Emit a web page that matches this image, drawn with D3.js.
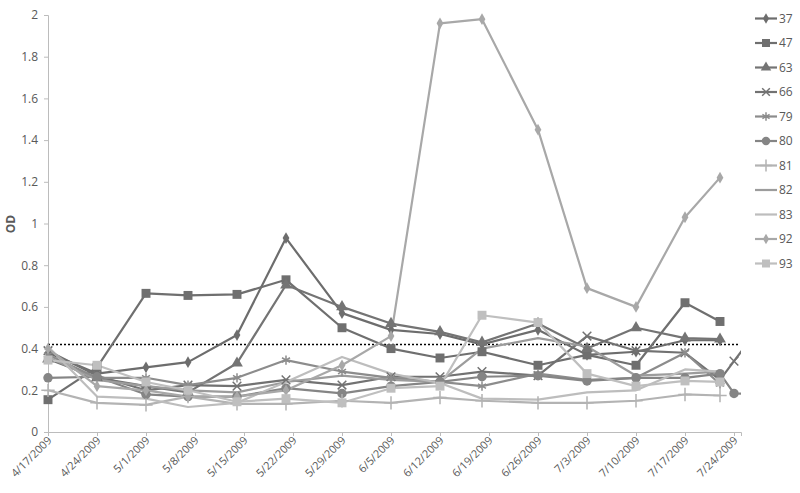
<!DOCTYPE html>
<html>
<head>
<meta charset="utf-8">
<script src="https://cdn.jsdelivr.net/npm/d3@7"></script>
<style>
  body { margin: 0; background: #fff; }
  text { font-family: "Open Sans", "Noto Sans", sans-serif; fill: #595959; }
</style>
</head>
<body>
<script>
const width = 800, height = 493;
const parseDate = d3.timeParse("%m/%d/%Y");

// sample dates (shared by every series)
const dates = ["4/17/2009","4/24/2009","5/1/2009","5/7/2009","5/14/2009","5/21/2009","5/29/2009",
  "6/5/2009","6/12/2009","6/18/2009","6/26/2009","7/3/2009","7/10/2009","7/17/2009","7/22/2009",
  "7/24/2009","7/31/2009"];
const tickDates = ["4/17/2009","4/24/2009","5/1/2009","5/8/2009","5/15/2009","5/22/2009","5/29/2009",
  "6/5/2009","6/12/2009","6/19/2009","6/26/2009","7/3/2009","7/10/2009","7/17/2009","7/24/2009"];
const yTicks = [0, 0.2, 0.4, 0.6, 0.8, 1, 1.2, 1.4, 1.6, 1.8, 2];
const cutoff = 0.42;

const names = ["37","47","63","66","79","80","81","82","83","92","93"];
const s37 = [0.38,0.28,0.31,0.335,0.465,0.93,0.57,0.49,0.47,0.42,0.49,0.37,0.385,0.44,0.44,null,null];
const s47 = [0.155,0.31,0.665,0.655,0.66,0.73,0.50,0.40,0.355,0.385,0.32,0.37,0.32,0.62,0.53,null,null];
const s63 = [0.35,0.26,0.22,0.19,0.33,0.705,0.60,0.52,0.48,0.43,0.52,0.40,0.50,0.45,0.445,null,null];
const s66 = [0.39,0.27,0.20,0.225,0.22,0.25,0.225,0.265,0.265,0.29,0.27,0.46,0.39,0.38,0.25,0.34,0.65];
const s79 = [0.37,0.26,0.26,0.225,0.26,0.345,0.29,0.26,0.24,0.22,0.28,0.25,0.26,0.38,0.23,null,null];
const s80 = [0.26,0.265,0.18,0.17,0.17,0.21,0.185,0.22,0.24,0.265,0.27,0.245,0.26,0.26,0.28,0.185,0.18];
const s81 = [0.20,0.14,0.13,0.17,0.135,0.135,0.15,0.14,0.165,0.15,0.14,0.14,0.15,0.18,0.175,null,null];
const s82 = [0.36,0.25,0.22,0.20,0.19,0.24,0.27,0.25,0.24,0.40,0.45,0.41,0.27,0.28,0.29,null,null];
const s83 = [0.41,0.17,0.16,0.12,0.14,0.24,0.36,0.28,0.235,0.16,0.155,0.19,0.20,0.30,0.29,null,null];
const s92 = [0.40,0.22,0.20,0.17,0.17,0.20,0.32,0.46,1.96,1.98,1.45,0.69,0.60,1.03,1.22,null,null];
const s93 = [0.345,0.32,0.24,0.20,0.145,0.16,0.14,0.21,0.22,0.56,0.525,0.28,0.22,0.245,0.24,null,null];
const values = [s37,s47,s63,s66,s79,s80,s81,s82,s83,s92,s93];

const colors = ["#6d6d6d","#6f6f6f","#747474","#727272","#8c8c8c","#858585","#b3b3b3","#9c9c9c","#bdbdbd","#a8a8a8","#bfbfbf"];
const shapes = [d3.symbolDiamond, d3.symbolSquare, d3.symbolTriangle, d3.symbolX, d3.symbolAsterisk,
  d3.symbolCircle, d3.symbolPlus, null, null, d3.symbolDiamond, d3.symbolSquare];
const sizes = [40, 80, 60, 50, 60, 70, 60, 0, 0, 40, 80];
const strokeShape = [false,false,false,true,true,false,true,false,false,false,false];

const x = d3.scaleTime()
  .domain([parseDate("4/17/2009"), parseDate("7/25/2009")])
  .range([48, 741]);
const y = d3.scaleLinear().domain([0, 2]).range([432, 15]);

const svg = d3.select("body").append("svg")
  .attr("width", width).attr("height", height);

svg.append("defs").append("clipPath").attr("id", "plot")
  .append("rect").attr("x", 40).attr("y", 0).attr("width", 701).attr("height", 440);

// y axis
const yAxis = svg.append("g")
  .attr("transform", "translate(48,0)")
  .call(d3.axisLeft(y).tickValues(yTicks).tickSize(4).tickPadding(6).tickFormat(d3.format("")));
yAxis.select(".domain").attr("stroke", "#bcbcbc");
yAxis.selectAll(".tick line").attr("stroke", "#bcbcbc");
yAxis.selectAll("text").attr("font-size", 12).attr("fill", "#595959")
  .style("font-family", "'Open Sans', sans-serif");

svg.append("text")
  .attr("transform", "translate(15,224) rotate(-90)")
  .attr("text-anchor", "middle")
  .attr("font-size", 12).attr("font-weight", "bold")
  .text("OD");

// x axis
const xAxis = svg.append("g")
  .attr("transform", "translate(0,432)")
  .call(d3.axisBottom(x).tickValues(tickDates.map(parseDate)).tickSize(4)
    .tickFormat(d3.timeFormat("%-m/%-d/%Y")));
xAxis.select(".domain").attr("stroke", "#bcbcbc");
xAxis.selectAll(".tick line").attr("stroke", "#bcbcbc");
xAxis.selectAll("text")
  .attr("font-size", 11).attr("fill", "#595959")
  .style("font-family", "'Open Sans', sans-serif")
  .attr("text-anchor", "end")
  .attr("dy", null).attr("y", 0)
  .attr("transform", "translate(4,9) rotate(-45)");

// cutoff line
svg.append("line")
  .attr("x1", x.range()[0]).attr("x2", 740)
  .attr("y1", y(cutoff)).attr("y2", y(cutoff))
  .attr("stroke", "#000").attr("stroke-width", 1.5).attr("stroke-dasharray", "2,2");

const line = d3.line()
  .defined(d => d.v != null)
  .x(d => x(d.date))
  .y(d => y(d.v));

const series = names.map((n, i) => ({
  name: n, color: colors[i], shape: shapes[i], size: sizes[i], stroke: strokeShape[i],
  points: dates.map((d, j) => ({ date: parseDate(d), v: values[i][j] })).filter(p => p.v != null)
}));

const plot = svg.append("g").attr("clip-path", "url(#plot)");

series.forEach(s => {
  plot.append("path")
    .datum(s.points)
    .attr("fill", "none")
    .attr("stroke", s.color)
    .attr("stroke-width", 2.2)
    .attr("stroke-linejoin", "round")
    .attr("d", line);
});

series.forEach(s => {
  if (!s.shape) return;
  plot.selectAll(null)
    .data(s.points)
    .enter()
    .append("path")
    .attr("transform", d => `translate(${x(d.date)},${y(d.v)})`)
    .attr("d", d3.symbol(s.shape, s.size))
    .attr("fill", s.stroke ? "none" : s.color)
    .attr("stroke", s.stroke ? s.color : "none")
    .attr("stroke-width", 1.5);
});

// legend
const legend = svg.append("g");
series.forEach((s, i) => {
  const ly = 18.5 + i * 24.5;
  legend.append("line")
    .attr("x1", 755).attr("x2", 777).attr("y1", ly).attr("y2", ly)
    .attr("stroke", s.color).attr("stroke-width", 2.2);
  if (s.shape) {
    legend.append("path")
      .attr("transform", `translate(766,${ly})`)
      .attr("d", d3.symbol(s.shape, s.size * 0.8))
      .attr("fill", s.stroke ? "none" : s.color)
      .attr("stroke", s.stroke ? s.color : "none")
      .attr("stroke-width", 1.5);
  }
  legend.append("text")
    .attr("x", 779).attr("y", ly).attr("dy", "0.35em")
    .attr("font-size", 12)
    .text(s.name);
});
</script>
</body>
</html>
